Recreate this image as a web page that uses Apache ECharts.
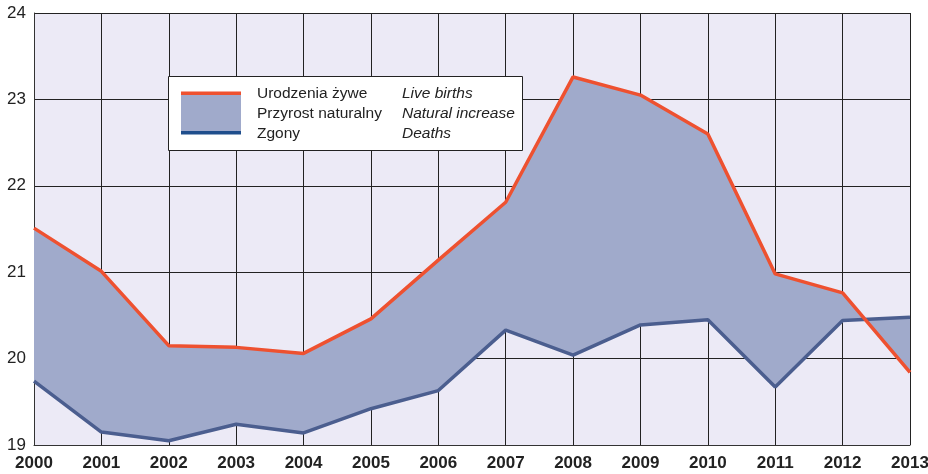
<!DOCTYPE html>
<html><head><meta charset="utf-8">
<script src="https://cdn.jsdelivr.net/npm/echarts@6/dist/echarts.min.js"></script>
<style>html,body{margin:0;padding:0;background:#fff}#c{width:928px;height:474px}</style>
</head><body><div id="c"></div>
<script>
var years = ['2000','2001','2002','2003','2004','2005','2006','2007','2008','2009','2010','2011','2012','2013'];
var births = [21.51,21.01,20.15,20.13,20.06,20.46,21.14,21.81,23.26,23.05,22.60,20.98,20.76,19.84];
var deaths = [19.74,19.15,19.05,19.24,19.14,19.42,19.63,20.33,20.04,20.39,20.45,19.67,20.44,20.48];
var yTicks = [19,20,21,22,23,24];
var legendPl = ['Urodzenia żywe','Przyrost naturalny','Zgony'];
var legendEn = ['Live births','Natural increase','Deaths'];

var FONT = '"Liberation Sans Narrow","Liberation Sans",Arial,sans-serif';
var chart = echarts.init(document.getElementById('c'));
var RED = '#EE5130', LINE_BLUE = '#4B5E8F', FILL = '#A0AACB', DARK_BLUE = '#1F4E8C';

chart.setOption({
  backgroundColor: '#fff',
  animation: false,
  grid: {left: 34, right: 18, top: 13, bottom: 29, show: true, backgroundColor: '#ECEAF6', borderWidth: 0, outerBoundsMode: 'none', containLabel: false},
  xAxis: {
    type: 'category', data: years, boundaryGap: false,
    axisLine: {show: true, lineStyle: {color: '#333', width: 1}},
    axisTick: {show: false},
    splitLine: {show: true, interval: 0, lineStyle: {color: '#222', width: 1}},
    axisLabel: {interval: 0, fontFamily: FONT, fontWeight: 'bold', fontSize: 17, color: '#222', margin: 10, hideOverlap: false}
  },
  yAxis: {
    type: 'value', min: yTicks[0], max: yTicks[yTicks.length-1], interval: 1,
    axisLine: {show: true, lineStyle: {color: '#333', width: 1}},
    axisTick: {show: false},
    splitLine: {show: true, lineStyle: {color: '#222', width: 1}},
    axisLabel: {fontFamily: FONT, fontSize: 17, color: '#222', margin: 8}
  },
  series: [
    {
      type: 'custom', z: 1, data: [0],
      renderItem: function (params, api) {
        var pts = [];
        for (var i = 0; i < births.length; i++) pts.push(api.coord([i, births[i]]));
        for (var j = deaths.length - 1; j >= 0; j--) pts.push(api.coord([j, deaths[j]]));
        return {type: 'polygon', shape: {points: pts}, style: {fill: FILL, stroke: null}};
      },
      silent: true
    },
    {type: 'line', data: deaths, z: 2, symbol: 'none', lineStyle: {color: LINE_BLUE, width: 3.5}},
    {type: 'line', data: births, z: 3, symbol: 'none', lineStyle: {color: RED, width: 3.5}}
  ],
  graphic: [
    {type: 'rect', z: 10, shape: {x: 168.5, y: 76.5, width: 354, height: 74}, style: {fill: '#fff', stroke: '#222', lineWidth: 1}},
    {type: 'rect', z: 11, shape: {x: 181, y: 95, width: 60, height: 37}, style: {fill: FILL}},
    {type: 'rect', z: 12, shape: {x: 181, y: 91.5, width: 60, height: 3.5}, style: {fill: RED}},
    {type: 'rect', z: 12, shape: {x: 181, y: 131, width: 60, height: 3.5}, style: {fill: DARK_BLUE}},
    {type: 'text', z: 12, left: 257, top: 84, style: {text: legendPl.join('\n'), font: '15.5px ' + FONT, fill: '#222', lineHeight: 20}},
    {type: 'text', z: 12, left: 402, top: 84, style: {text: legendEn.join('\n'), font: 'italic 15.5px ' + FONT, fill: '#222', lineHeight: 20}}
  ]
});
</script></body></html>
